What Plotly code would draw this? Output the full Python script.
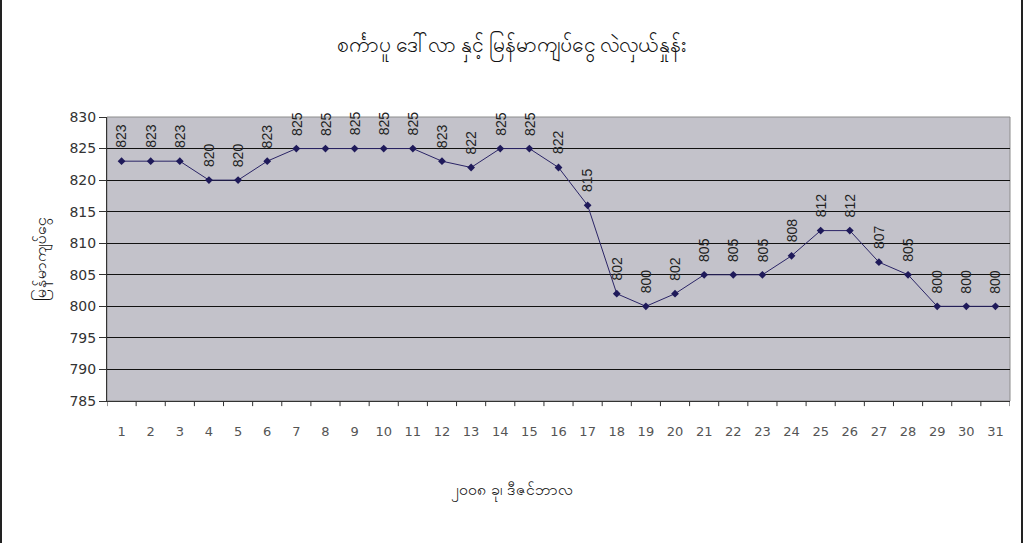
import plotly.graph_objects as go

days = list(range(1, 32))
prices = [823, 823, 823, 820, 820, 823, 825, 825, 825, 825, 825, 823, 822, 825, 825,
          822, 816, 802, 800, 802, 805, 805, 805, 808, 812, 812, 807, 805, 800, 800, 800]
price_labels = ["823", "823", "823", "820", "820", "823", "825", "825", "825", "825", "825",
                "823", "822", "825", "825", "822", "815", "802", "800", "802", "805", "805",
                "805", "808", "812", "812", "807", "805", "800", "800", "800"]
y_ticks = [785, 790, 795, 800, 805, 810, 815, 820, 825, 830]

title_text = "စင်္ကာပူ ဒေါ်လာ နှင့် မြန်မာကျပ်ငွေ လဲလှယ်နှုန်း"
x_title = "၂၀၀၈ ခု၊ ဒီဇင်ဘာလ"
y_title = "မြန်မာကျပ်ငွေ"

L, R, T, B = 107, 14, 117, 142
PW = 1024 - L - R
PH = 543 - T - B

fig = go.Figure()
fig.add_trace(go.Scatter(
    x=days, y=prices, mode="lines+markers",
    line=dict(color="#2a2466", width=1),
    marker=dict(symbol="diamond", size=6, color="#1f1a5a"),
    cliponaxis=False, hoverinfo="x+y", showlegend=False,
))

for d, p, lab in zip(days, prices, price_labels):
    fig.add_annotation(x=d, y=p, text=lab, textangle=-90, showarrow=False,
                       xanchor="center", yanchor="bottom", yshift=11,
                       font=dict(family="Liberation Sans, Arial", size=14, color="#222222"))

fig.add_annotation(xref="paper", yref="paper", x=(512 - L) / PW, y=(T + PH - 490) / PH,
                   text=x_title, showarrow=False, xanchor="center", yanchor="middle",
                   font=dict(family="Noto Sans, DejaVu Sans", size=16, color="#111111"))

fig.update_layout(
    width=1024, height=543,
    paper_bgcolor="white", plot_bgcolor="#c3c2ca",
    margin=dict(l=L, r=R, t=T, b=B),
    title=dict(text=title_text, x=0.5, xanchor="center", y=1 - 45 / 543, yanchor="middle",
               font=dict(family="Noto Sans, DejaVu Sans", size=21, color="#111111")),
    font=dict(family="Liberation Sans, Arial", color="#222222"),
)
fig.update_xaxes(
    range=[0.5, 31.5], tickmode="array", tickvals=days, ticktext=[str(d) for d in days],
    showgrid=False, zeroline=False, showline=True, linecolor="#333333", linewidth=1,
    ticks="", tickfont=dict(family="DejaVu Sans, Verdana", size=13, color="#555555"),
    ticklabelstandoff=18,
)
fig.update_yaxes(
    range=[785, 830], tickmode="array", tickvals=y_ticks,
    showgrid=True, gridcolor="#111111", gridwidth=1, zeroline=False,
    showline=True, linecolor="#333333", linewidth=1, ticks="outside", ticklen=7,
    tickcolor="#333333", tickfont=dict(family="DejaVu Sans, Verdana", size=14, color="#333333"),
    title=dict(text=y_title, font=dict(family="Noto Sans, DejaVu Sans", size=16, color="#111111"),
               standoff=18),
)

for b in [i + 0.5 for i in range(0, 32)]:
    fig.add_shape(type="line", xref="x", yref="paper", x0=b, x1=b, y0=0, y1=-0.018,
                  line=dict(color="#333333", width=1))
fig.add_shape(type="rect", xref="paper", yref="paper", x0=0, x1=1, y0=0, y1=1,
              line=dict(color="#8c8c8c", width=1), layer="below")
fig.add_shape(type="line", xref="paper", yref="paper", x0=-(L - 1) / PW, x1=-(L - 1) / PW,
              y0=-2, y1=2, line=dict(color="#222222", width=2))
fig.add_shape(type="line", xref="paper", yref="paper", x0=(1022 - L) / PW, x1=(1022 - L) / PW,
              y0=-2, y1=2, line=dict(color="#222222", width=2))

fig.write_html("out.html", config={"displayModeBar": False},
               post_script="document.body.style.margin='0';")
